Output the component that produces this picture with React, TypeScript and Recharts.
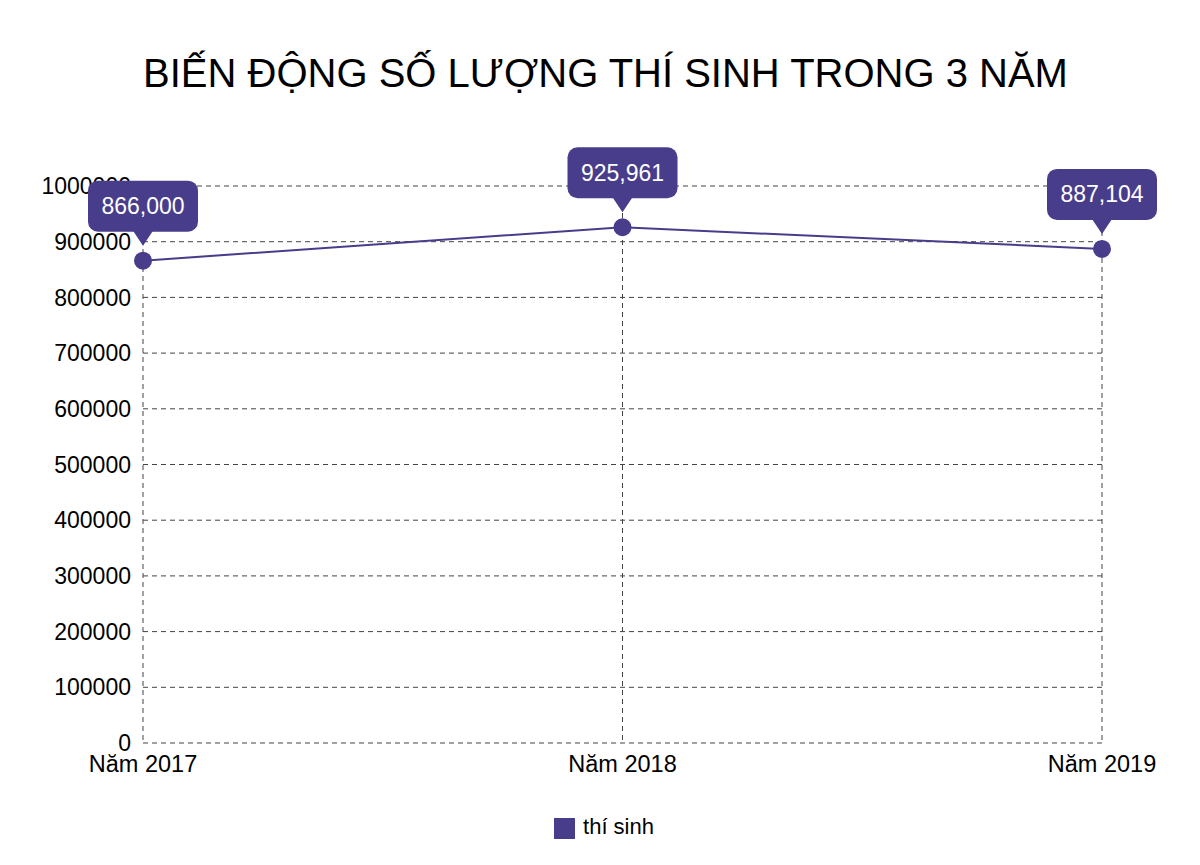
import { LineChart, Line, XAxis, YAxis, CartesianGrid, Legend, LabelList } from "recharts";

const years = ["Năm 2017", "Năm 2018", "Năm 2019"];
const candidates = [866000, 925961, 887104];
const yTicks = [0, 100000, 200000, 300000, 400000, 500000, 600000, 700000, 800000, 900000, 1000000];

const data = years.map((year, i) => ({ year, value: candidates[i] }));

const COLOR = "#483D8B";
const FONT = '"Liberation Sans", Arial, sans-serif';

const Callout = (props: any) => {
  const { x, y, value } = props;
  if (x == null || y == null) return null;
  const w = 110;
  const h = 51;
  const bottom = y - 29;
  const top = bottom - h;
  return (
    <g>
      <rect x={x - w / 2} y={top} width={w} height={h} rx={10} fill={COLOR} />
      <polygon points={`${x - 10},${bottom - 1} ${x + 10},${bottom - 1} ${x},${y - 15}`} fill={COLOR} />
      <text
        x={x}
        y={top + h / 2}
        fill="#ffffff"
        fontSize={23}
        fontFamily={FONT}
        textAnchor="middle"
        dominantBaseline="central"
      >
        {Number(value).toLocaleString("en-US")}
      </text>
    </g>
  );
};

export default function App() {
  return (
    <div style={{ position: "fixed", top: 0, left: 0, width: 1200, height: 865, background: "#fff", fontFamily: FONT }}>
      <div
        style={{
          position: "absolute",
          top: 53,
          left: 0,
          width: 1211,
          textAlign: "center",
          fontSize: 40,
          lineHeight: "40px",
          color: "#000",
        }}
      >
        BIẾN ĐỘNG SỐ LƯỢNG THÍ SINH TRONG 3 NĂM
      </div>
      <LineChart
        width={1200}
        height={865}
        data={data}
        margin={{ top: 186, right: 98, left: 0, bottom: 25 }}
      >
        <CartesianGrid stroke="#444" strokeDasharray="5 4" />
        <XAxis
          dataKey="year"
          axisLine={false}
          tickLine={false}
          tickSize={0}
          tickMargin={12}
          height={71}
          interval={0}
          tick={{ fill: "#000", fontSize: 23.5, fontFamily: FONT }}
        />
        <YAxis
          width={143}
          domain={[0, 1000000]}
          ticks={yTicks}
          interval={0}
          axisLine={false}
          tickLine={false}
          tickSize={0}
          tickMargin={12}
          tick={{ fill: "#000", fontSize: 23, fontFamily: FONT }}
        />
        <Legend
          verticalAlign="bottom"
          iconType="square"
          iconSize={21}
          wrapperStyle={{ fontSize: 22, fontFamily: FONT, left: 0, width: 1218 }}
          formatter={(v) => <span style={{ color: "#000", marginLeft: 4 }}>{v}</span>}
        />
        <Line
          dataKey="value"
          name="thí sinh"
          stroke={COLOR}
          strokeWidth={2}
          dot={{ r: 9, fill: COLOR, stroke: COLOR, strokeWidth: 0 }}
          activeDot={false}
          isAnimationActive={false}
        >
          <LabelList dataKey="value" content={Callout} />
        </Line>
      </LineChart>
    </div>
  );
}
